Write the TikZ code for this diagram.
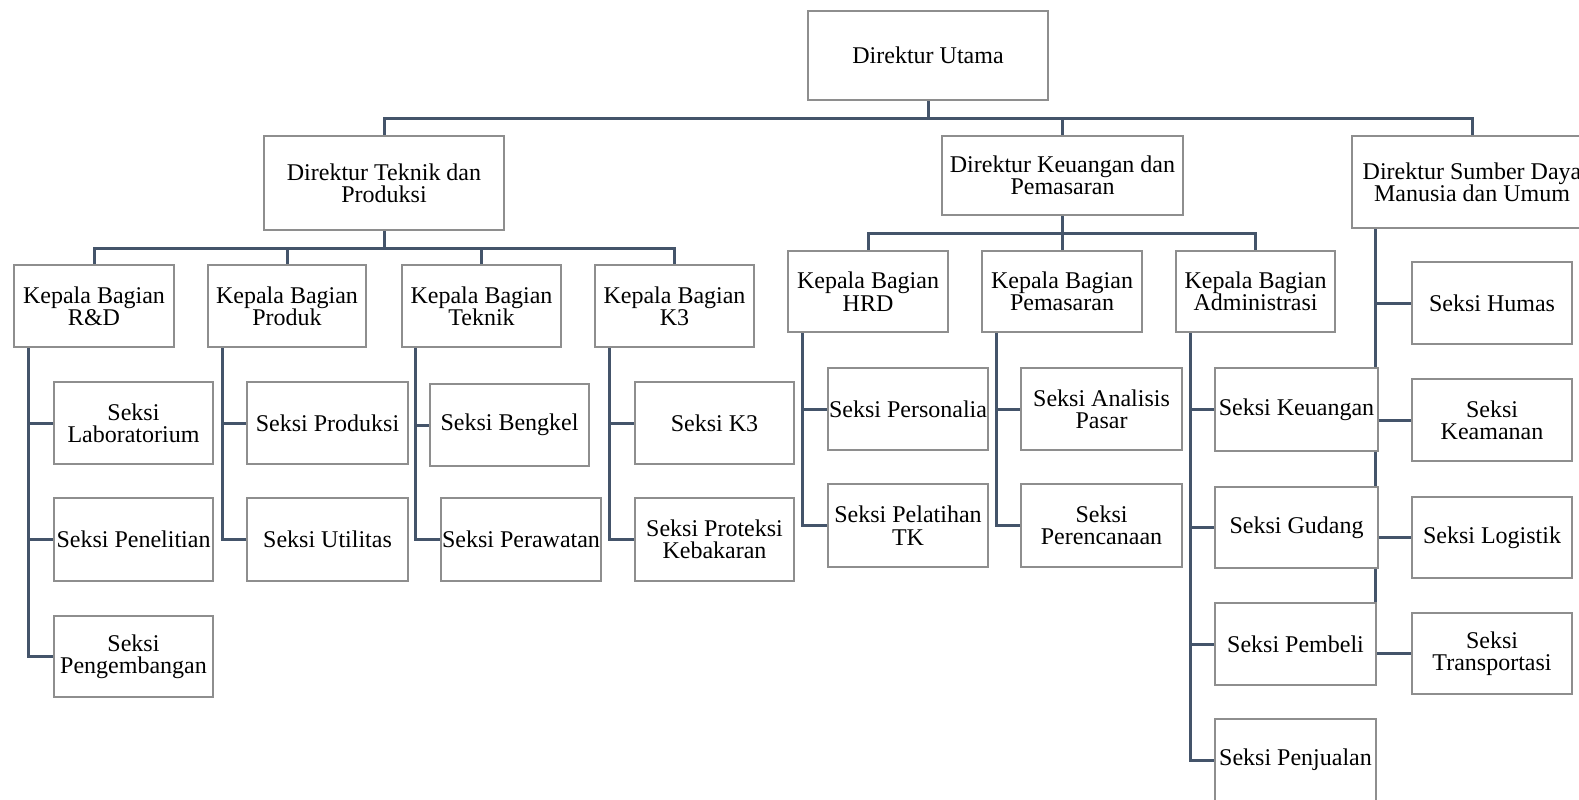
\documentclass[tikz,border=0pt]{standalone}
\usepackage{fontspec}
\setmainfont{Liberation Serif}
\usetikzlibrary{backgrounds}
\definecolor{lineblue}{HTML}{44546A}
\definecolor{boxgray}{HTML}{8E8E8E}
\tikzset{
  box/.style={draw=boxgray, line width=0.9pt, fill=white, align=center, inner sep=0pt,
    font=\fontsize{12}{11.2}\selectfont},
  bx/.style 2 args={box, minimum width=#1*0.5pt, minimum height=#2*0.5pt},
  conn/.style={draw=lineblue, line width=1.5pt}
}
\begin{document}
\begin{tikzpicture}[x=0.5pt,y=-0.5pt]
\useasboundingbox (0,0) rectangle (1579,799);
% level 0
\node[bx={240}{89}] (du) at (928,55.5) {Direktur Utama};
% level 1
\node[bx={240}{94}] (dtp) at (384,183) {Direktur Teknik dan\\Produksi};
\node[bx={241}{79}] (dkp) at (1062.5,175.5) {Direktur Keuangan dan\\Pemasaran};
\node[bx={240}{92}] (sdm) at (1472,182) {Direktur Sumber Daya\\Manusia dan Umum};
% level 2
\node[bx={160}{82}] (rd) at (94,306) {Kepala Bagian\\R\&D};
\node[bx={158}{82}] (pr) at (287,306) {Kepala Bagian\\Produk};
\node[bx={159}{82}] (tk) at (481.5,306) {Kepala Bagian\\Teknik};
\node[bx={159}{82}] (kk) at (674.5,306) {Kepala Bagian\\K3};
\node[bx={160}{81}] (hrd) at (868,291.5) {Kepala Bagian\\HRD};
\node[bx={160}{81}] (pem) at (1062,291.5) {Kepala Bagian\\Pemasaran};
\node[bx={159}{81}] (adm) at (1255.5,291.5) {Kepala Bagian\\Administrasi};
% seksi
\node[bx={159}{82}] (lab) at (133.5,423) {Seksi\\Laboratorium};
\node[bx={159}{83}] (pen) at (133.5,539.5) {Seksi Penelitian};
\node[bx={159}{81}] (peng) at (133.5,656.5) {Seksi\\Pengembangan};
\node[bx={161}{82}] (prd) at (327.5,423) {Seksi Produksi};
\node[bx={161}{83}] (utl) at (327.5,539.5) {Seksi Utilitas};
\node[bx={159}{82}] (bkl) at (509.5,425) {Seksi Bengkel};
\node[bx={160}{83}] (prw) at (521,539.5) {Seksi Perawatan};
\node[bx={159}{82}] (sk3) at (714.5,423) {Seksi K3};
\node[bx={159}{83}] (prot) at (714.5,539.5) {Seksi Proteksi\\Kebakaran};
\node[bx={160}{82}] (pers) at (908,409) {Seksi Personalia};
\node[bx={160}{83}] (pel) at (908,525.5) {Seksi Pelatihan\\TK};
\node[bx={161}{82}] (ap) at (1101.5,409) {Seksi Analisis\\Pasar};
\node[bx={161}{83}] (per) at (1101.5,525.5) {Seksi\\Perencanaan};
\node[bx={163}{83}] (keu) at (1296.5,409.5) {Seksi Keuangan};
\node[bx={163}{81}] (gud) at (1296.5,527.5) {Seksi Gudang};
\node[bx={161}{82}] (pmb) at (1295.5,644) {Seksi Pembeli};
\node[bx={161}{82}] (pjl) at (1295.5,760) {Seksi Penjualan};
\node[bx={160}{82}] (hum) at (1492,303) {Seksi Humas};
\node[bx={160}{82}] (kea) at (1492,420) {Seksi\\Keamanan};
\node[bx={160}{81}] (lgs) at (1492,537.5) {Seksi Logistik};
\node[bx={160}{81}] (trn) at (1492,653.5) {Seksi\\Transportasi};
% connectors
\begin{scope}[on background layer]
\draw[conn] (du.south) -- ++(0,18) -| (dtp.north);
\draw[conn] (du.south) -- ++(0,18) -| (dkp.north);
\draw[conn] (du.south) -- ++(0,18) -| (sdm.north);
\foreach \c in {rd,pr,tk,kk}{\draw[conn] (dtp.south) -- ++(0,18) -| (\c.north);}
\foreach \c in {hrd,pem,adm}{\draw[conn] (dkp.south) -- ++(0,18) -| (\c.north);}
\foreach \c in {lab,pen,peng}{\draw[conn] (rd.south west) ++(15,0) |- (\c.west);}
\foreach \c in {prd,utl}{\draw[conn] (pr.south west) ++(15,0) |- (\c.west);}
\foreach \c in {bkl,prw}{\draw[conn] (tk.south west) ++(14,0) |- (\c.west);}
\foreach \c in {sk3,prot}{\draw[conn] (kk.south west) ++(15,0) |- (\c.west);}
\foreach \c in {pers,pel}{\draw[conn] (hrd.south west) ++(15,0) |- (\c.west);}
\foreach \c in {ap,per}{\draw[conn] (pem.south west) ++(15,0) |- (\c.west);}
\foreach \c in {keu,gud,pmb,pjl}{\draw[conn] (adm.south west) ++(15,0) |- (\c.west);}
\foreach \c in {hum,kea,lgs,trn}{\draw[conn] (sdm.south west) ++(24,0) |- (\c.west);}
\end{scope}
\end{tikzpicture}
\end{document}
